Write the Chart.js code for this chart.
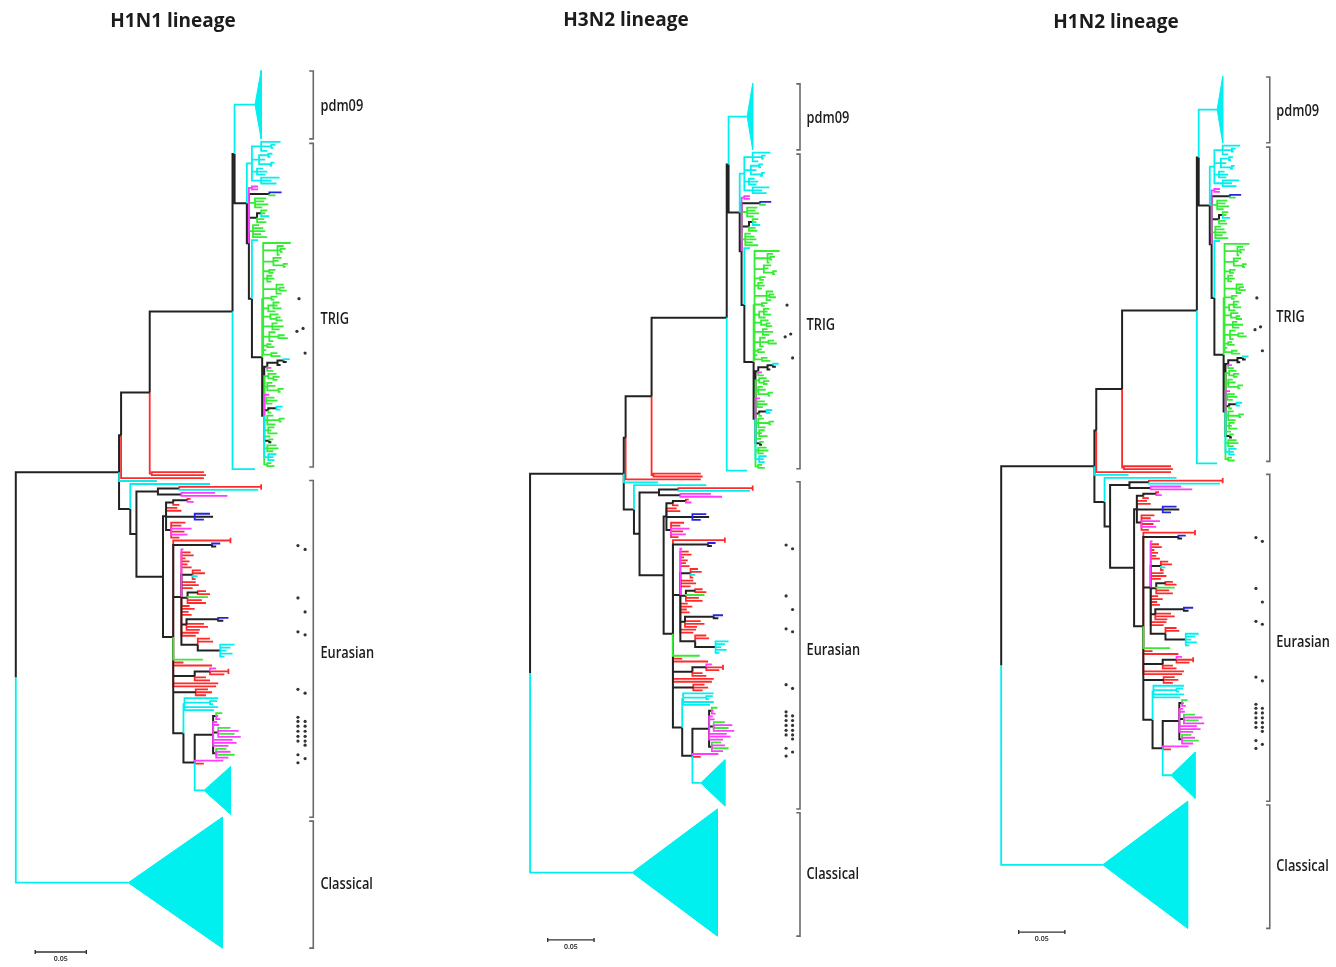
<!DOCTYPE html>
<html>
<head>
<meta charset="utf-8">
<script src="https://cdn.jsdelivr.net/npm/chart.js@4.4.1/dist/chart.umd.min.js"></script>
<style>
  html, body { margin: 0; padding: 0; background: #fff; }
  #wrap { position: relative; width: 1336px; height: 967px; overflow: hidden; }
  canvas { position: absolute; top: 0; }
</style>
</head>
<body>
<div id="wrap">
  <canvas id="p1"></canvas>
  <canvas id="p2"></canvas>
  <canvas id="p3"></canvas>
</div>
<script>
// branch depth in 0.001 substitutions/site, colour code per branch
// k black, c cyan, r red, g green, m magenta, b blue
// a collapsed clade is [depth, colour, rows, far depth]
const pdm09Clade = [234, 'c', 24, 240];
const classicalClade = [110, 'c', 45, 202];
const eurasianTriangle = [184, 'c', 17, 210];

const trigCyan = [231, 'c',
  [240, 'c', [259, 'c'], [250, 'c', [254, 'c'], [252, 'c']], [246, 'c']],
  [238, 'c', [247, 'c', [251, 'c'], [249, 'c']], [244, 'c'], [250, 'c', [253, 'c'], [248, 'c']]],
  [236, 'c', [242, 'c'], [246, 'c'], [244, 'c']],
  [240, 'c', [258, 'c'], [250, 'c'], [255, 'c']]];

const trigMagenta = [231, 'm', [237, 'm'], [237, 'm']];

const trigMixed = [228, 'k',
  [248, 'k', [260, 'b'], [254, 'g']],
  [234, 'g', [245, 'g'], [243, 'g'], [247, 'g'], [241, 'g']],
  [236, 'k', [240, 'k', [246, 'g'], [244, 'g'], [248, 'c']], [243, 'g'], [245, 'g']],
  [232, 'g', [238, 'g'], [242, 'g'], [244, 'g'], [240, 'g'], [246, 'g']]];

const trigGreen = [242, 'g',
  [269, 'g'],
  [256, 'g', [262, 'g'], [259, 'g', [264, 'g'], [261, 'g']], [258, 'g']],
  [252, 'g', [260, 'g'], [257, 'g'], [262, 'g', [266, 'g'], [264, 'g']]],
  [248, 'g', [254, 'g'], [252, 'g']],
  [246, 'g', [251, 'g'], [253, 'g'], [250, 'g']],
  [255, 'g', [262, 'g'], [258, 'g', [263, 'g'], [265, 'g']], [260, 'g']],
  [250, 'g', [256, 'g'], [253, 'g']],
  [247, 'g', [252, 'g', [258, 'g'], [256, 'g'], [260, 'g']], [254, 'g']],
  [249, 'g', [257, 'g'], [255, 'g', [259, 'g'], [261, 'g']]],
  [251, 'g', [256, 'g'], [262, 'g'], [258, 'g']],
  [248, 'g', [254, 'g'], [257, 'g', [263, 'g'], [266, 'g']], [252, 'g']],
  [246, 'g', [250, 'g'], [253, 'g']],
  [245, 'g'],
  [250, 'g', [256, 'g'], [259, 'g']]];

const trigLower = [243, 'k',
  [246, 'k', [256, 'k', [262, 'k', [268, 'c'], [265, 'k']], [259, 'k']], [250, 'm'], [252, 'g']],
  [247, 'g', [255, 'g'], [252, 'g', [258, 'g'], [256, 'g']]],
  [246, 'g', [251, 'g'], [254, 'g'], [257, 'g', [262, 'g'], [259, 'g']]],
  [248, 'm'],
  [245, 'g', [253, 'g'], [256, 'g'], [251, 'g']],
  [247, 'k', [255, 'k', [261, 'c'], [259, 'c']], [250, 'g']],
  [246, 'g', [252, 'g'], [258, 'g', [263, 'g'], [260, 'g']], [254, 'g']],
  [247, 'g', [253, 'g'], [250, 'g'], [256, 'g']],
  [249, 'g'],
  [248, 'k', [252, 'g'], [250, 'k']],
  [246, 'g', [255, 'g'], [257, 'g'], [252, 'g']],
  [247, 'c', [255, 'c'], [252, 'c'], [253, 'c']],
  [246, 'g', [250, 'g'], [253, 'g']]];

const eurasianTop = [139, 'k',
  [160, 'k', [240, 'r', 'cap'], [237, 'c']],
  [162, 'k', [195, 'm'], [207, 'm']]];

const eurasianSecond = [147, 'k',
  [154, 'k', [168, 'k', [171, 'r'], [174, 'm']], [160, 'r']],
  [158, 'r'], [162, 'r'],
  [175, 'k', [190, 'b'], [193, 'k'], [184, 'b']],
  [152, 'k', [166, 'r'], [162, 'r'], [172, 'm'], [165, 'r'], [168, 'm'], [160, 'r']]];

const eurasianRed = [162, 'k',
  [164, 'm'], [171, 'r'], [174, 'r'],
  [166, 'r'], [170, 'r'], [168, 'r'], [172, 'r'],
  [173, 'k', [181, 'r'], [185, 'r'], [178, 'c'], [176, 'r']],
  [176, 'r'], [179, 'r'], [173, 'r'],
  [168, 'k', [178, 'k', [186, 'r'], [190, 'r']], [188, 'g'], [182, 'r'], [186, 'r']],
  [170, 'r'], [175, 'r'], [169, 'r'], [172, 'r'],
  [167, 'k', [198, 'k', [208, 'b'], [203, 'k']], [184, 'r'], [188, 'r'], [180, 'r']],
  [179, 'r'], [176, 'r'],
  [178, 'k', [190, 'r'], [193, 'r'], [200, 'k', [214, 'c'], [210, 'c'], [206, 'c'], [212, 'c'], [204, 'c']]]];

const eurasianMid = [
  [183, 'g'], [164, 'r'], [192, 'r'],
  [175, 'k', [190, 'k', [196, 'm'], [208, 'r', 'cap'], [204, 'r']], [186, 'r'], [190, 'r']],
  [198, 'r'], [196, 'r'],
  [176, 'k', [188, 'r'], [192, 'r'], [186, 'r']]];

const eurasianCyan = [165, 'c', [198, 'c'], [190, 'c', [197, 'c'], [193, 'c']], [198, 'c'], [194, 'c']];

const eurasianMixed = [193, 'k',
  [196, 'k', [202, 'g'], [198, 'm'], [200, 'm']],
  [197, 'm'], [199, 'm'],
  [198, 'k', [210, 'g'], [218, 'm'], [214, 'g'], [220, 'm']],
  [212, 'm'], [216, 'm'], [208, 'm'],
  [196, 'k', [206, 'g'], [210, 'm'], [214, 'g'], [208, 'm']]];

// clade brackets (rows) and marker dots (depth, row)
const cladeNames = ['pdm09', 'TRIG', 'Eurasian', 'Classical'];
const cladeStart = [0.2, 24.5, 137.8, 252.3];
const cladeEnd = [23, 133.3, 251, 295];
const cladeLabelRow = [12, 83.6, 196, 273.5];
const markerDepth = [277, 275, 281, 283,
  276, 283, 276, 283, 276, 283, 276, 283,
  276, 276, 276, 276, 276, 276, 283, 283, 283, 283, 283, 283,
  276, 283, 276];
const markerRow = [76.7, 87.7, 86.7, 95,
  159.7, 161, 177.3, 182, 188.7, 189.7, 208, 209.3,
  217.4, 218.8, 220.4, 222.1, 223.8, 225.4, 218.8, 220.4, 222.1, 223.8, 225.4, 226.8,
  230, 231.3, 232.7];
const scaleBarFrom = 19, scaleBarTo = 69, scaleBarLabel = '0.05';

// assemble the tree
const trigClade = [226, 'k', trigCyan,
  [228, 'k', trigMagenta, trigMixed,
    [231, 'k', [237, 'c'], [241, 'k', trigGreen, trigLower]]]];
const upperClade = [131, 'k',
  [212, 'k', [214, 'k', pdm09Clade, trigClade], [234, 'c']],
  [133, 'r', [184, 'r'], [186, 'r']]];
const eurasianClade = [112, 'k', [190, 'c'],
  [118, 'k', eurasianTop,
    [144, 'k', eurasianSecond,
      [154, 'k', [210, 'r', 'cap'], [192, 'k', [200, 'b'], [196, 'k']], eurasianRed, ...eurasianMid,
        [164, 'k', eurasianCyan, [175, 'k', eurasianMixed, [203, 'm'], [184, 'r'], eurasianTriangle]]]]]];
const tree = [0, 'k',
  [101, 'k', [103, 'k', upperClade, [184, 'r']], [138, 'c'], eurasianClade],
  classicalClade];

const colourOf = { k: '#222222', c: '#00efef', r: '#ff2b2b', g: '#35ec35', m: '#ff3cff', b: '#2626e0' };

const panels = [
  { id: 'p1', title: 'H1N1 lineage', left: 0, width: 470, rootPx: 12, pxPerUnit: 1.04, topPx: 67, pxPerRow: 3, titleX: 173, titleY: 22 },
  { id: 'p2', title: 'H3N2 lineage', left: 470, width: 490, rootPx: 527, pxPerUnit: 0.943, topPx: 80, pxPerRow: 2.915, titleX: 626, titleY: 21 },
  { id: 'p3', title: 'H1N2 lineage', left: 960, width: 376, rootPx: 998, pxPerUnit: 0.943, topPx: 73, pxPerRow: 2.912, titleX: 1116, titleY: 23 }
];
const pageHeight = 967;

function layoutTree(root) {
  const segments = {};
  const triangles = [];
  let row = 0;
  function add(col, pts) {
    if (!segments[col]) segments[col] = [];
    pts.forEach(p => segments[col].push({ x: p[0], y: p[1] }));
    segments[col].push({ x: null, y: null });
  }
  function walk(node) {
    const d = node[0];
    if (typeof node[2] === 'number') {
      const top = row, bottom = row + node[2] - 1;
      row += node[2];
      const mid = (top + bottom) / 2;
      triangles.push({ col: node[1], pts: [[d, mid], [node[3], top], [node[3], bottom], [d, mid]] });
      return mid;
    }
    const kids = node.slice(2).filter(Array.isArray);
    if (!kids.length) {
      const y = row++;
      if (node[2] === 'cap') add(node[1], [[d, y - 0.9], [d, y + 0.9]]);
      return y;
    }
    const ys = kids.map(walk);
    const y = (ys[0] + ys[ys.length - 1]) / 2;
    kids.forEach((k, i) => add(k[1], [[d, y], [d, ys[i]], [k[0], ys[i]]]));
    return y;
  }
  walk(root);
  return { segments, triangles };
}

function makeDatasets() {
  const { segments, triangles } = layoutTree(tree);
  const sets = [];
  Object.keys(segments).forEach(col => {
    sets.push({ data: segments[col], showLine: true, borderColor: colourOf[col], borderWidth: col === 'k' ? 2 : 1.8, pointRadius: 0, fill: false, spanGaps: false });
  });
  triangles.forEach(t => {
    sets.push({ data: t.pts.map(p => ({ x: p[0], y: p[1] })), showLine: true, fill: 'shape', backgroundColor: colourOf[t.col], borderColor: colourOf[t.col], borderWidth: 1, pointRadius: 0 });
  });
  const brackets = [];
  cladeNames.forEach((n, i) => {
    brackets.push({ x: 287, y: cladeStart[i] }, { x: 291, y: cladeStart[i] }, { x: 291, y: cladeEnd[i] }, { x: 287, y: cladeEnd[i] }, { x: null, y: null });
  });
  sets.push({ data: brackets, showLine: true, borderColor: '#6a6a6a', borderWidth: 1.6, pointRadius: 0, fill: false });
  sets.push({
    data: [{ x: scaleBarFrom, y: 295.6 }, { x: scaleBarFrom, y: 297 }, { x: null, y: null },
      { x: scaleBarFrom, y: 296.3 }, { x: scaleBarTo, y: 296.3 }, { x: null, y: null },
      { x: scaleBarTo, y: 295.6 }, { x: scaleBarTo, y: 297 }],
    showLine: true, borderColor: '#333333', borderWidth: 1.4, pointRadius: 0, fill: false
  });
  sets.push({ data: markerDepth.map((d, i) => ({ x: d, y: markerRow[i] })), showLine: false, pointRadius: 1.6, backgroundColor: '#333333', borderWidth: 0 });
  return sets;
}

const treeText = {
  id: 'treeText',
  afterDatasetsDraw(chart, args, p) {
    const { ctx } = chart;
    const x = chart.scales.x, y = chart.scales.y;
    ctx.save();
    ctx.fillStyle = '#1c1c1c';
    ctx.textBaseline = 'middle';
    ctx.textAlign = 'center';
    ctx.font = 'bold 19px "Open Sans"';
    ctx.fillText(p.title, p.titleX - p.left, p.titleY);
    ctx.textAlign = 'left';
    ctx.font = '600 16px "Open Sans"';
    cladeNames.forEach((name, i) => {
      ctx.save();
      ctx.translate(x.getPixelForValue(298), y.getPixelForValue(cladeLabelRow[i]));
      ctx.scale(0.8, 1);
      ctx.fillText(name, 0, 0);
      ctx.restore();
    });
    ctx.textAlign = 'center';
    ctx.font = '600 7px "Open Sans"';
    ctx.fillText(scaleBarLabel, x.getPixelForValue((scaleBarFrom + scaleBarTo) / 2), y.getPixelForValue(298.8));
    ctx.restore();
  }
};

panels.forEach(p => {
  const canvas = document.getElementById(p.id);
  canvas.width = p.width;
  canvas.height = pageHeight;
  canvas.style.left = p.left + 'px';
  const x0 = p.rootPx - p.left;
  new Chart(canvas, {
    type: 'scatter',
    data: { datasets: makeDatasets() },
    options: {
      responsive: false,
      animation: false,
      devicePixelRatio: 1,
      events: [],
      layout: { padding: 0 },
      plugins: { legend: { display: false }, tooltip: { enabled: false }, treeText: p },
      scales: {
        x: { type: 'linear', display: false, min: -x0 / p.pxPerUnit, max: (p.width - x0) / p.pxPerUnit },
        y: { type: 'linear', display: false, reverse: true, min: -p.topPx / p.pxPerRow, max: (pageHeight - p.topPx) / p.pxPerRow }
      }
    },
    plugins: [treeText]
  });
});
</script>
</body>
</html>
